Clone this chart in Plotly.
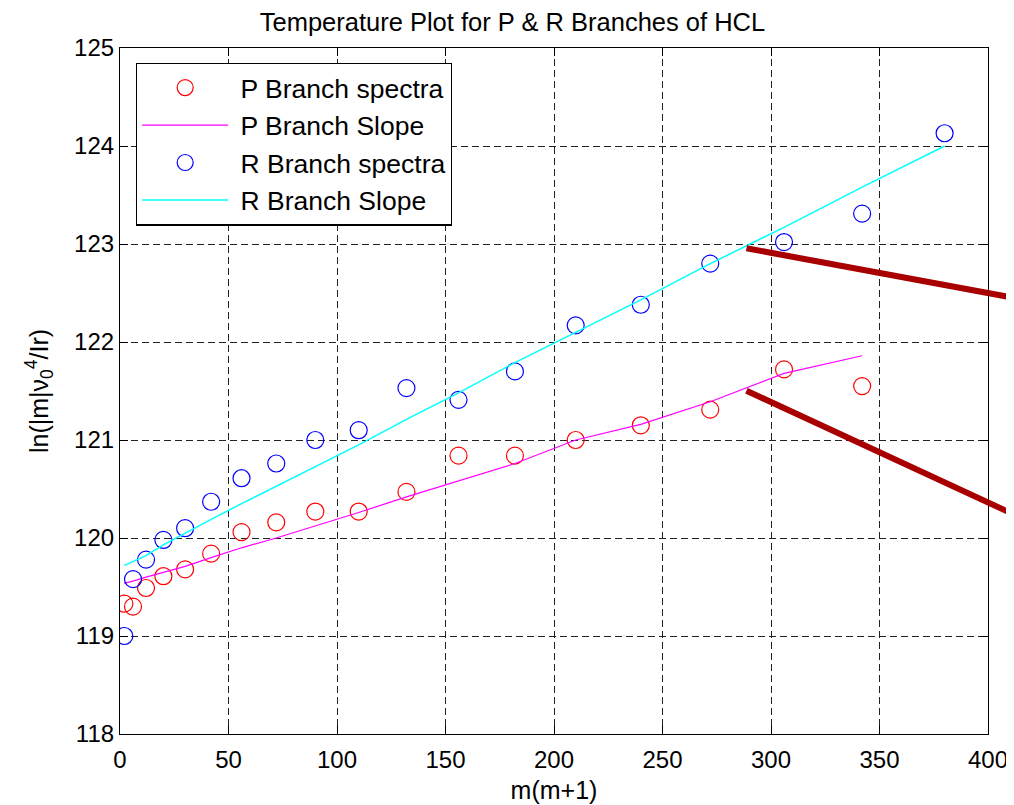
import plotly.graph_objects as go

# m(m+1) values
x_p = [2, 6, 12, 20, 30, 42, 56, 72, 90, 110, 132, 156, 182, 210, 240, 272, 306, 342]
x_r = [2, 6, 12, 20, 30, 42, 56, 72, 90, 110, 132, 156, 182, 210, 240, 272, 306, 342, 380]

# P branch spectra (red circles)
p_spec = [119.33, 119.30, 119.49, 119.61, 119.68, 119.84, 120.06, 120.16, 120.27,
          120.27, 120.47, 120.84, 120.84, 121.00, 121.15, 121.31, 121.72, 121.55]
# P branch fitted slope
p_fit = [119.54, 119.56, 119.60, 119.65, 119.71, 119.80, 119.90, 120.00, 120.12,
         120.26, 120.42, 120.58, 120.76, 121.00, 121.16, 121.39, 121.68, 121.86]

# R branch spectra (blue circles)
r_spec = [119.00, 119.58, 119.78, 119.98, 120.10, 120.37, 120.61, 120.76, 121.00,
          121.10, 121.53, 121.41, 121.70, 122.17, 122.38, 122.80, 123.02, 123.31, 124.13]
# R branch fitted slope
r_fit = [119.72, 119.76, 119.82, 119.93, 120.05, 120.19, 120.35, 120.53, 120.73,
         120.95, 121.21, 121.48, 121.79, 122.10, 122.43, 122.80, 123.17, 123.58, 124.00]

# decorative pointer lines (tail -> head), data coordinates
pointer_tail_x = [288, 288]
pointer_tail_y = [122.96, 121.51]
pointer_head_x = [412, 412]
pointer_head_y = [122.45, 120.24]

x_ticks = [0, 50, 100, 150, 200, 250, 300, 350, 400]
y_ticks = [118, 119, 120, 121, 122, 123, 124, 125]

FONT = "Liberation Sans, Arial, sans-serif"
PAD = "\u00a0"

fig = go.Figure()
fig.add_trace(go.Scatter(x=x_p, y=p_spec, mode="markers", name=PAD + "P Branch spectra",
                         marker=dict(symbol="circle-open", size=17, color="#ff0000",
                                     line=dict(width=1.2, color="#ff0000"))))
fig.add_trace(go.Scatter(x=x_p, y=p_fit, mode="lines", name=PAD + "P Branch Slope",
                         line=dict(color="#ff00ff", width=1.2)))
fig.add_trace(go.Scatter(x=x_r, y=r_spec, mode="markers", name=PAD + "R Branch spectra",
                         marker=dict(symbol="circle-open", size=17, color="#0000ff",
                                     line=dict(width=1.2, color="#0000ff"))))
fig.add_trace(go.Scatter(x=x_r, y=r_fit, mode="lines", name=PAD + "R Branch Slope",
                         line=dict(color="#00ffff", width=1.5)))

for tx, ty, hx, hy in zip(pointer_tail_x, pointer_tail_y, pointer_head_x, pointer_head_y):
    fig.add_annotation(x=hx, y=hy, ax=tx, ay=ty, xref="x", yref="y", axref="x", ayref="y",
                       text="", showarrow=True, arrowhead=0, arrowwidth=6,
                       arrowcolor="#a80000", standoff=0, startstandoff=0)

axis_common = dict(showline=True, linecolor="black", linewidth=1.2, mirror="ticks",
                   ticks="inside", ticklen=8, tickcolor="black", showgrid=True,
                   gridcolor="#222222", gridwidth=1, griddash="7px,4px", zeroline=False,
                   tickfont=dict(family=FONT, size=24, color="black"))

fig.update_xaxes(range=[0, 400], tickvals=x_ticks, **axis_common, ticklabelstandoff=4,
                 title=dict(text="m(m+1)", font=dict(family=FONT, size=25, color="black"),
                            standoff=9))
fig.update_yaxes(range=[118, 125], tickvals=y_ticks, **axis_common,
                 title=dict(text="ln(|m|ν<sub>0</sub><sup>4</sup>/Ir)",
                            font=dict(family=FONT, size=25, color="black"), standoff=18))

fig.update_layout(
    width=1014, height=805,
    margin=dict(l=112, r=34, t=40, b=79, autoexpand=False),
    paper_bgcolor="white", plot_bgcolor="white",
    title=dict(text="Temperature Plot for P & R Branches of HCL", x=0.4975, xanchor="center",
               y=1 - 14 / 805, yanchor="middle", yref="container",
               font=dict(family=FONT, size=25.5, color="black")),
    legend=dict(x=0.0184, y=0.9786, xanchor="left", yanchor="top", bgcolor="white",
                bordercolor="black", borderwidth=1.2,
                font=dict(family=FONT, size=26.5, color="black"), itemwidth=86),
    showlegend=True,
)

fig.write_html("out.html")
